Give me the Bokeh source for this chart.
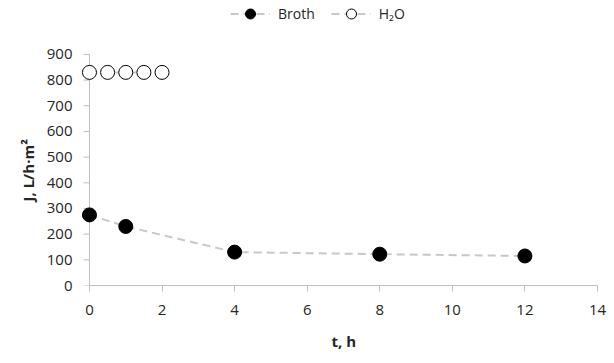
from math import pi
from bokeh.plotting import figure
from bokeh.models import Range1d, Legend, LegendItem, FixedTicker, Title
from bokeh.embed import file_html
from bokeh.resources import INLINE

broth_t = [0, 1, 4, 8, 12]
broth_j = [275, 230, 130, 122, 115]
water_t = [0, 0.5, 1, 1.5, 2]
water_j = [830, 830, 830, 830, 830]
x_ticks = [0, 2, 4, 6, 8, 10, 12, 14]
y_ticks = [0, 100, 200, 300, 400, 500, 600, 700, 800, 900]

FONT = "Open Sans"
TXT = "#262626"
AX = "#bfbfbf"

p = figure(width=612, height=362, output_backend="svg", toolbar_location=None,
           x_range=Range1d(-0.44, 14), y_range=Range1d(0, 1110),
           min_border_left=73, min_border_right=15, min_border_top=0, min_border_bottom=72)
p.outline_line_color = None
p.grid.visible = False

# vertical axis line and its outward ticks at t = 0
p.segment(x0=[x_ticks[0]], y0=[y_ticks[0]], x1=[x_ticks[0]], y1=[y_ticks[-1]],
          line_color=AX, line_width=1)
p.ray(x=[x_ticks[0]] * len(y_ticks), y=y_ticks, length=6, length_units="screen",
      angle=pi, line_color=AX, line_width=1)

dash = "8 5"
l1 = p.line(broth_t, broth_j, line_color="#c8c8c8", line_width=2, line_dash=dash)
s1 = p.scatter(broth_t, broth_j, size=14, fill_color="black", line_color="black")
l2 = p.line(water_t, water_j, line_color="#c8c8c8", line_width=2, line_dash=dash)
s2 = p.scatter(water_t, water_j, size=14, fill_color="white", line_color="black", line_width=1)

for ax in (p.xaxis[0], p.yaxis[0]):
    ax.axis_line_color = AX
    ax.major_tick_line_color = AX
    ax.major_tick_out = 6
    ax.major_tick_in = 0
    ax.minor_tick_line_color = None
    ax.major_label_text_font = FONT
    ax.major_label_text_font_size = "15px"
    ax.major_label_text_color = TXT

p.xaxis.ticker = FixedTicker(ticks=x_ticks)
p.yaxis.ticker = FixedTicker(ticks=y_ticks)
p.xaxis.bounds = (x_ticks[0], x_ticks[-1])
p.yaxis.bounds = (y_ticks[0], y_ticks[-1])
p.yaxis.axis_line_color = None
p.yaxis.major_tick_line_color = None
p.yaxis.major_tick_out = 0
p.xaxis.major_label_standoff = 13
p.yaxis.major_label_standoff = 1

ylab = Title(text="J, L/h·m²", align="left", offset=84, standoff=12,
             text_font=FONT, text_font_size="15px", text_font_style="bold", text_color=TXT)
p.add_layout(ylab, "left")
xlab = Title(text="t, h", align="left", offset=258, standoff=23,
             text_font=FONT, text_font_size="15px", text_font_style="bold", text_color=TXT)
p.add_layout(xlab, "below")

legend = Legend(items=[LegendItem(label="Broth", renderers=[l1, s1]),
                       LegendItem(label="H₂O", renderers=[l2, s2])],
                orientation="horizontal", location=(157, 259),
                border_line_color=None, background_fill_alpha=0,
                label_text_font=FONT, label_text_font_size="14px", label_text_color=TXT,
                glyph_width=40, glyph_height=25, label_standoff=8, spacing=16,
                padding=0, margin=0)
p.add_layout(legend)

open("out.html", "w").write(file_html(p, INLINE))
